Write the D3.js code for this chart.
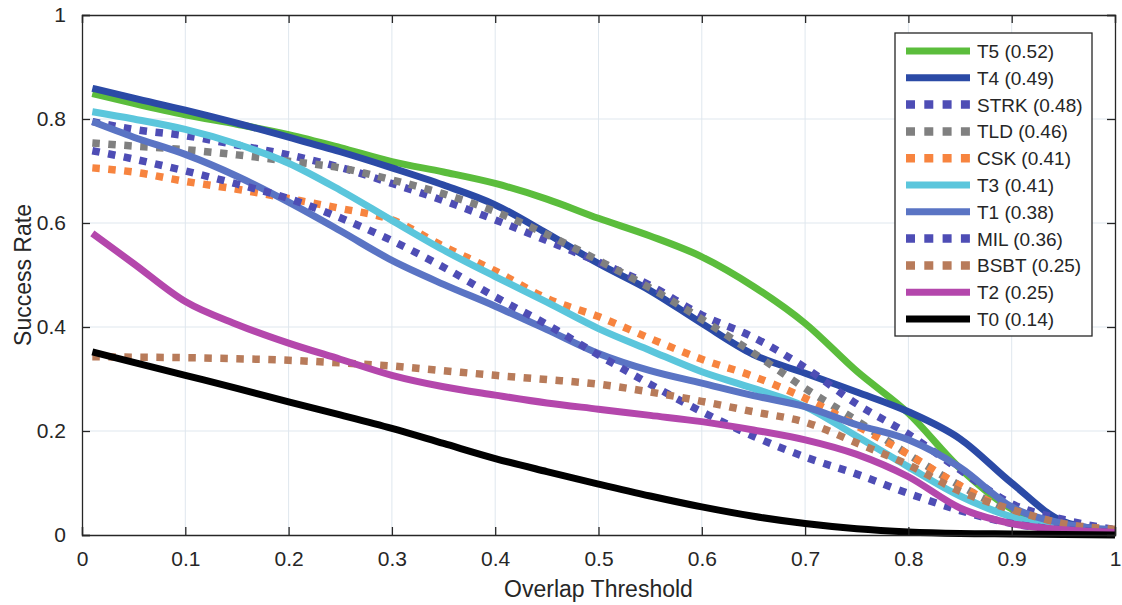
<!DOCTYPE html>
<html>
<head>
<meta charset="utf-8">
<script src="https://cdn.jsdelivr.net/npm/d3@7"></script>
<style>
  body { margin: 0; background: #fff; }
  text { font-family: "Liberation Sans", Arial, Helvetica, sans-serif; fill: #262626; }
</style>
</head>
<body>
<script>
const thresholds = [0.01, 0.05, 0.1, 0.15, 0.2, 0.25, 0.3, 0.35, 0.4, 0.45, 0.5,
                    0.55, 0.6, 0.65, 0.7, 0.75, 0.8, 0.85, 0.9, 0.95, 1.0];

const t5   = [0.849, 0.83, 0.808, 0.79, 0.77, 0.745, 0.718, 0.698, 0.676, 0.646, 0.609, 0.575, 0.535, 0.478, 0.407, 0.315, 0.234, 0.128, 0.05, 0.015, 0.005];
const t4   = [0.859, 0.84, 0.817, 0.792, 0.765, 0.737, 0.706, 0.673, 0.635, 0.58, 0.522, 0.47, 0.407, 0.347, 0.311, 0.275, 0.237, 0.185, 0.1, 0.026, 0.008];
const strk = [0.795, 0.78, 0.768, 0.75, 0.731, 0.707, 0.676, 0.643, 0.606, 0.566, 0.525, 0.48, 0.423, 0.38, 0.322, 0.252, 0.194, 0.125, 0.06, 0.03, 0.01];
const tld  = [0.754, 0.748, 0.741, 0.731, 0.719, 0.706, 0.683, 0.656, 0.622, 0.578, 0.528, 0.475, 0.415, 0.35, 0.282, 0.22, 0.155, 0.095, 0.045, 0.018, 0.008];
const csk  = [0.706, 0.698, 0.68, 0.665, 0.647, 0.628, 0.606, 0.555, 0.508, 0.455, 0.42, 0.378, 0.338, 0.305, 0.263, 0.21, 0.155, 0.095, 0.045, 0.02, 0.008];
const t3   = [0.814, 0.8, 0.78, 0.752, 0.715, 0.663, 0.605, 0.548, 0.497, 0.448, 0.397, 0.355, 0.314, 0.282, 0.247, 0.19, 0.131, 0.075, 0.035, 0.015, 0.008];
const t1   = [0.795, 0.765, 0.732, 0.69, 0.64, 0.585, 0.528, 0.482, 0.44, 0.395, 0.349, 0.316, 0.292, 0.268, 0.247, 0.212, 0.183, 0.13, 0.054, 0.022, 0.01];
const mil  = [0.739, 0.723, 0.7, 0.675, 0.647, 0.61, 0.566, 0.515, 0.458, 0.405, 0.346, 0.29, 0.237, 0.19, 0.15, 0.117, 0.08, 0.047, 0.022, 0.01, 0.005];
const bsbt = [0.343, 0.342, 0.341, 0.339, 0.336, 0.331, 0.325, 0.316, 0.307, 0.299, 0.29, 0.275, 0.257, 0.237, 0.217, 0.177, 0.135, 0.084, 0.049, 0.022, 0.011];
const t2   = [0.58, 0.522, 0.449, 0.405, 0.369, 0.338, 0.307, 0.285, 0.269, 0.254, 0.242, 0.23, 0.218, 0.202, 0.183, 0.155, 0.112, 0.052, 0.022, 0.01, 0.005];
const t0   = [0.352, 0.332, 0.307, 0.282, 0.256, 0.231, 0.205, 0.176, 0.147, 0.122, 0.098, 0.075, 0.054, 0.036, 0.022, 0.012, 0.006, 0.003, 0.002, 0.001, 0.0];

const names   = ['T5 (0.52)', 'T4 (0.49)', 'STRK (0.48)', 'TLD (0.46)', 'CSK (0.41)', 'T3 (0.41)',
                 'T1 (0.38)', 'MIL (0.36)', 'BSBT (0.25)', 'T2 (0.25)', 'T0 (0.14)'];
const values  = [t5, t4, strk, tld, csk, t3, t1, mil, bsbt, t2, t0];
const colors  = ['#5bbd3c', '#2b4aa6', '#4e4db5', '#808080', '#f7843f', '#5bc6dc',
                 '#5a74c4', '#4e4db5', '#b87b5a', '#b447ac', '#000000'];
const dotted  = [false, false, true, true, true, false, false, true, true, false, false];

const xTicks = [0, 0.1, 0.2, 0.3, 0.4, 0.5, 0.6, 0.7, 0.8, 0.9, 1];
const yTicks = [0, 0.2, 0.4, 0.6, 0.8, 1];

const width = 1122, height = 605;
const margin = {top: 15, right: 7, bottom: 70, left: 82};

const svg = d3.select('body').append('svg')
  .attr('width', width)
  .attr('height', height);

const x = d3.scaleLinear().domain([0, 1]).range([margin.left, width - margin.right]);
const y = d3.scaleLinear().domain([0, 1]).range([height - margin.bottom, margin.top]);

// grid
svg.append('g')
  .selectAll('line.gx')
  .data(xTicks.slice(1, -1))
  .join('line')
  .attr('x1', d => x(d)).attr('x2', d => x(d))
  .attr('y1', y(0)).attr('y2', y(1))
  .attr('stroke', '#dfe7ee').attr('stroke-width', 1);
svg.append('g')
  .selectAll('line.gy')
  .data(yTicks.slice(1, -1))
  .join('line')
  .attr('x1', x(0)).attr('x2', x(1))
  .attr('y1', d => y(d)).attr('y2', d => y(d))
  .attr('stroke', '#dfe7ee').attr('stroke-width', 1);

// curves
const line = d3.line()
  .x((d, i) => x(thresholds[i]))
  .y(d => y(d))
  .curve(d3.curveMonotoneX);

values.forEach((v, k) => {
  svg.append('path')
    .attr('d', line(v))
    .attr('fill', 'none')
    .attr('stroke', colors[k])
    .attr('stroke-width', dotted[k] ? 7.5 : 7)
    .attr('stroke-linejoin', 'round')
    .attr('stroke-dasharray', dotted[k] ? '7.5,8.5' : null);
});

// axes (ticks pointing inward, box on)
const fmt = d => d === 0 ? '0' : d === 1 ? '1' : d3.format('.1f')(d);

const axB = svg.append('g')
  .attr('transform', `translate(0,${y(0)})`)
  .call(d3.axisBottom(x).tickValues(xTicks).tickFormat(fmt).tickSize(-8).tickPadding(16));
const axL = svg.append('g')
  .attr('transform', `translate(${x(0)},0)`)
  .call(d3.axisLeft(y).tickValues(yTicks).tickFormat(fmt).tickSize(-8).tickPadding(16));
const axT = svg.append('g')
  .attr('transform', `translate(0,${y(1)})`)
  .call(d3.axisTop(x).tickValues(xTicks).tickFormat('').tickSize(-8));
const axR = svg.append('g')
  .attr('transform', `translate(${x(1)},0)`)
  .call(d3.axisRight(y).tickValues(yTicks).tickFormat('').tickSize(-8));

[axB, axL, axT, axR].forEach(a => {
  a.select('.domain').attr('stroke', '#262626').attr('stroke-width', 1.3);
  a.selectAll('.tick line').attr('stroke', '#262626').attr('stroke-width', 1.3);
  a.selectAll('.tick text')
    .style('font-size', '21px')
    .style('font-family', '"Liberation Sans", Arial, sans-serif')
    .attr('fill', '#262626');
});

// axis labels
svg.append('text')
  .attr('x', (x(0) + x(1)) / 2)
  .attr('y', 597)
  .attr('text-anchor', 'middle')
  .style('font-size', '23px')
  .text('Overlap Threshold');

svg.append('text')
  .attr('transform', `translate(31,${(y(0) + y(1)) / 2}) rotate(-90)`)
  .attr('text-anchor', 'middle')
  .style('font-size', '23px')
  .text('Success Rate');

// legend
const lg = svg.append('g').attr('transform', 'translate(895,33)');
lg.append('rect')
  .attr('width', 197).attr('height', 303)
  .attr('fill', '#fff').attr('stroke', '#262626').attr('stroke-width', 1.3);

const rows = lg.selectAll('g.row')
  .data(names)
  .join('g')
  .attr('transform', (d, i) => `translate(0,${18 + i * 26.8})`);

rows.append('line')
  .attr('x1', 11).attr('x2', 75)
  .attr('y1', 0).attr('y2', 0)
  .attr('stroke', (d, i) => colors[i])
  .attr('stroke-width', (d, i) => dotted[i] ? 8.5 : 7)
  .attr('stroke-dasharray', (d, i) => dotted[i] ? '9,9.3' : null);

rows.append('text')
  .attr('x', 82).attr('y', 7)
  .style('font-size', '19px')
  .text(d => d);
</script>
</body>
</html>
